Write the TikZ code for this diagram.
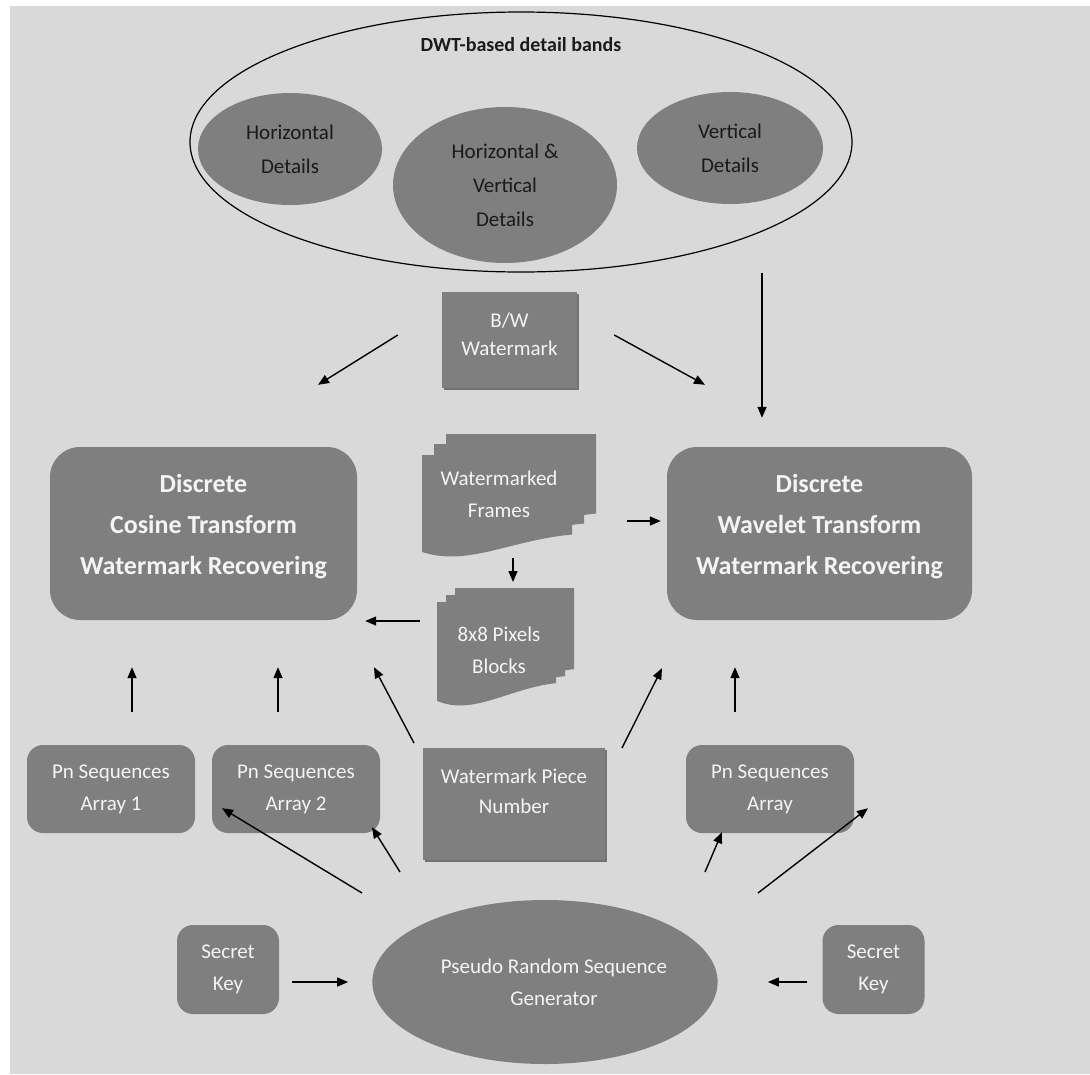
\documentclass[tikz,border=0pt]{standalone}
\usepackage{fontspec}
\setmainfont{Carlito}
\usetikzlibrary{shapes.geometric,arrows.meta,calc}
\definecolor{paper}{HTML}{D9D9D9}
\definecolor{boxgray}{HTML}{7F7F7F}
\definecolor{boxtext}{HTML}{F4F4F4}
\definecolor{ink}{HTML}{1A1A1A}
\tikzset{
  plain/.style={font=\fontsize{21}{32}\selectfont, text=boxtext, align=center, inner sep=0pt},
  roundbox/.style={plain, fill=boxgray, rounded corners=16pt},
  bigtext/.style={text=boxtext, align=center, inner sep=0pt, font=\fontsize{26}{41}\selectfont\bfseries},
  bigbox/.style={fill=boxgray, rounded corners=30pt, inner sep=0pt},
  squarebox/.style={fill=boxgray, inner sep=0pt},
  band/.style={ellipse, fill=boxgray, inner sep=0pt, align=center, text=ink,
    font=\fontsize{21}{34}\selectfont},
  arr/.style={draw=black, line width=1.4pt, -{Triangle[length=11pt,width=9pt]}},
}
% one page of a stacked-document symbol (wavy lower edge)
\newcommand{\docpage}[4]{%
  \fill[boxgray] (#1,#2) -- ({#1+#3},#2) -- ({#1+#3},{#2+0.78*#4})
    .. controls ({#1+0.6*#3},{#2+0.83*#4}) and ({#1+0.3*#3},{#2+1.1*#4}) ..
    (#1,{#2+0.95*#4}) -- cycle;}
\begin{document}
\begin{tikzpicture}[x=1pt,y=-1pt]
\useasboundingbox (0,0) rectangle (1090,1074);
\fill[white] (0,0) rectangle (1090,1074);
\fill[paper] (10,6) rectangle (1090,1074);

% DWT detail bands
\node[ellipse, draw=black, line width=1.2pt, minimum width=662pt, minimum height=260pt, inner sep=0pt] (bands) at (521,142) {};
\node[font=\fontsize{20}{24}\selectfont\bfseries, text=ink] (bandstitle) at (521,45) {DWT-based detail bands};
\node[band, minimum width=184pt, minimum height=112pt] (hd) at (290,149) {Horizontal\\Details};
\node[band, minimum width=224pt, minimum height=156pt] (hvd) at (505,185) {Horizontal \&\\Vertical\\Details};
\node[band, minimum width=186pt, minimum height=112pt] (vd) at (730,148) {Vertical\\Details};

% watermark and frames
\fill[black!55] (444,294) rectangle (579,390);
\node[squarebox, minimum width=135pt, minimum height=96pt,
  label={[plain, font=\fontsize{21}{28}\selectfont, yshift=6pt]center:{B/W\\Watermark}}] (bw) at (509.5,340) {};

\docpage{446}{434}{150}{102}
\docpage{434}{444}{150}{102}
\docpage{422}{455}{150}{102}
\node[plain, minimum width=150pt, minimum height=80pt] (wf) at (499,494) {Watermarked\\Frames};

\docpage{455}{588}{119}{104}
\docpage{446}{595}{119}{104}
\docpage{437}{602}{119}{104}
\node[plain, minimum width=119pt, minimum height=80pt] (blk) at (499,650) {8x8 Pixels\\Blocks};

% recovering stages
\node[bigbox, minimum width=307pt, minimum height=173pt,
  label={[bigtext, yshift=7pt]center:{Discrete\\Cosine Transform\\Watermark Recovering}}] (dct) at (203.5,533.5) {};
\node[bigbox, minimum width=305pt, minimum height=173pt,
  label={[bigtext, yshift=7pt]center:{Discrete\\Wavelet Transform\\Watermark Recovering}}] (dwt) at (819.5,533.5) {};

% sequence arrays
\node[roundbox, minimum width=168pt, minimum height=88pt] (pn1) at (111,789) {Pn Sequences\\Array 1};
\node[roundbox, minimum width=168pt, minimum height=88pt] (pn2) at (296,789) {Pn Sequences\\Array 2};
\node[roundbox, minimum width=168pt, minimum height=88pt] (pn3) at (770,789) {Pn Sequences\\Array};
\fill[black!55] (425,750) rectangle (607,862);
\node[squarebox, minimum width=182pt, minimum height=112pt,
  label={[plain, font=\fontsize{21}{30}\selectfont, yshift=13pt]center:{Watermark Piece\\Number}}] (wpn) at (514,804) {};

% generator and keys
\node[roundbox, minimum width=102pt, minimum height=89pt] (sk1) at (228,969.5) {Secret\\Key};
\node[roundbox, minimum width=102pt, minimum height=89pt] (sk2) at (873.5,969.5) {Secret\\Key};
\node[ellipse, fill=boxgray, plain, minimum width=334pt, minimum height=164pt] (prsg) at (545,982) {\hspace*{18pt}Pseudo Random Sequence\\\hspace*{18pt}Generator};

% connectors
\draw[arr] ($(bw.west)+(-44,-5)$) -- ($(dct.north)+(114.5,-62)$);
\draw[arr] ($(bw.east)+(37,-5)$) -- ($(dwt.north)+(-114.5,-62)$);
\draw[arr] ($(bands.south)+(241,0)$) -- ($(dwt.north)+(-57.5,-29)$);
\draw[arr] ($(wf.center)+(128,27)$) -- ($(dwt.west)+(-6,-12.5)$);
\draw[arr] ($(wf.center)+(14,64)$) -- ($(blk.center)+(14,-68)$);
\draw[arr] ($(blk.center)+(-79,-29)$) -- ($(dct.east)+(8,87.5)$);
\draw[arr] ($(pn1.north)+(21,-33)$) -- ($(dct.south)+(-71.5,47)$);
\draw[arr] ($(pn2.north)+(-18,-33)$) -- ($(dct.south)+(74.5,47)$);
\draw[arr] ($(wpn.center)+(-100,-61)$) -- ($(dct.south)+(170.5,47)$);
\draw[arr] ($(wpn.center)+(108,-56)$) -- ($(dwt.south)+(-157.5,48)$);
\draw[arr] ($(pn3.north)+(-35,-33)$) -- ($(dwt.south)+(-84.5,47)$);
\draw[arr] ($(prsg.center)+(-183,-89)$) -- ($(pn1.south)+(111,-25)$);
\draw[arr] ($(prsg.center)+(-145,-110)$) -- ($(pn2.south)+(76,-6)$);
\draw[arr] ($(prsg.center)+(160,-110)$) -- ($(pn3.south)+(-48,-1)$);
\draw[arr] ($(prsg.center)+(213,-89)$) -- ($(pn3.south)+(98,-25)$);
\draw[arr] ($(sk1.east)+(13,12.5)$) -- ($(prsg.west)+(-24,0)$);
\draw[arr] ($(sk2.west)+(-15,12.5)$) -- ($(prsg.east)+(50,0)$);
\end{tikzpicture}
\end{document}
